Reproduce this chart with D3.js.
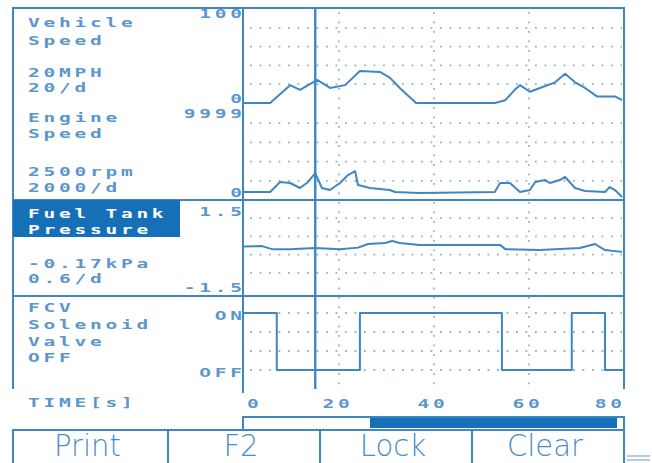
<!DOCTYPE html>
<html><head><meta charset="utf-8">
<script src="https://cdn.jsdelivr.net/npm/d3@7/dist/d3.min.js"></script>
<style>
html,body{margin:0;padding:0;background:#fff;}
svg{display:block;}
.lcd{font-family:"DejaVu Sans Mono",monospace;font-size:13px;font-weight:bold;letter-spacing:2.5px;fill:#5b96cf;}
.btn{font-family:"DejaVu Sans",sans-serif;font-weight:200;font-size:30px;fill:#4a8cca;}
</style></head>
<body>
<svg id="c" width="652" height="463"></svg>
<script>
// ---- data ----
const timeTicks = [0, 20, 40, 60, 80];
const timeGrid = [20, 40, 60];
const cursorTime = 15;

const speedT = [0, 5.5, 9.7, 11.8, 15.4, 18.1, 21.3, 24.4, 28.6, 30.7, 32.8, 35.6, 36.2, 52.8, 55, 57, 58.1, 60.2, 62.3, 65.5, 67.6, 69.7, 71.8, 74.3, 78.1, 79.6];
const speedV = [0, 0, 19, 14, 24.5, 16, 19, 34, 33, 27, 16, 3, 0, 0, 3, 14, 19, 12, 16, 22, 31, 22, 16, 7, 7, 3];
const speedGrid = [20, 40, 60, 80];

const engineT = [0, 5.5, 7.6, 9.7, 11.8, 13.5, 15, 16.4, 18.1, 20.2, 21.9, 23.4, 24, 26.5, 30.7, 31.8, 37, 52.8, 53.9, 56, 58.1, 60.2, 61.3, 63.4, 64.4, 66.5, 67.6, 69.7, 71.8, 76, 77, 78.1, 79.6];
const engineV = [830, 830, 1880, 1770, 1250, 1880, 2800, 1250, 1040, 1770, 2600, 3000, 1560, 1250, 1040, 830, 730, 830, 1770, 1770, 830, 1040, 1880, 2080, 1770, 2080, 2400, 1250, 940, 830, 1350, 1040, 310];
const engineGrid = [2000, 4000, 6000, 8000];

const fuelT = [0, 3.8, 5.9, 9.7, 15, 20.2, 24, 26.1, 29.7, 31.2, 32.8, 37, 53.9, 55, 62.3, 70.7, 73.9, 76, 79.6];
const fuelV = [-0.03, -0.02, -0.12, -0.12, -0.08, -0.12, -0.07, 0.05, 0.08, 0.15, 0.08, 0.02, 0.02, -0.12, -0.15, -0.08, 0.05, -0.15, -0.21];
const fuelGrid = [-0.9, -0.3, 0.3, 0.9];

const fcvT = [0, 6.9, 24.4, 54.3, 69, 76, 80];
const fcvV = [1, 0, 1, 0, 1, 0, 0];
const fcvGrid = [0, 1/3, 2/3, 1];

const speedLabels = ["Vehicle", "Speed", "20MPH", "20/d"];
const engineLabels = ["Engine", "Speed", "2500rpm", "2000/d"];
const fuelLabels = ["Fuel Tank", "Pressure", "-0.17kPa", "0.6/d"];
const fcvLabels = ["FCV", "Solenoid", "Valve", "OFF"];
const axisLabels = ["100", "0", "9999", "0", "1.5", "-1.5", "ON", "OFF"];
const buttonLabels = ["Print", "F2", "Lock", "Clear"];

// ---- drawing ----
const C = "#3f86c4", GRID = "#8fb3d6", FILL = "#1570b8";
const SX = 1.5, LS = 2.5;
const svg = d3.select("#c");
const x = d3.scaleLinear([0, 80], [244, 624]);
const ySpeed = d3.scaleLinear([0, 100], [103, 9]);
const yEng = d3.scaleLinear([0, 10000], [200, 104]);
const yFuel = d3.scaleLinear([-1.5, 1.5], [291, 200]);
const yFcv = d3.scaleLinear([0, 1], [370, 313]);

// grid
const g = svg.append("g").attr("stroke", GRID).attr("stroke-width", 1.8).attr("stroke-dasharray", "1.8,7.7");
function hgrid(vals, y) {
  g.selectAll(null).data(vals).join("line")
    .attr("x1", x(0) + 6).attr("x2", x(80) - 2)
    .attr("y1", d => y(d)).attr("y2", d => y(d));
}
hgrid(speedGrid, ySpeed); hgrid(engineGrid, yEng); hgrid(fuelGrid, yFuel); hgrid(fcvGrid, yFcv);
g.selectAll(null).data(timeGrid).join("line")
  .attr("x1", d => x(d)).attr("x2", d => x(d)).attr("y1", 12).attr("y2", 386);

// frame
const f = svg.append("g").attr("stroke", C).attr("stroke-width", 2).attr("fill", "none");
f.append("path").attr("d", "M13,389V8H624V389");
f.append("line").attr("x1", 13).attr("x2", 624).attr("y1", 200).attr("y2", 200);
f.append("line").attr("x1", 13).attr("x2", 624).attr("y1", 296).attr("y2", 296);
f.append("line").attr("x1", x(0) - 1).attr("x2", x(0) - 1).attr("y1", 8).attr("y2", 393);
f.append("line").attr("x1", x(cursorTime)).attr("x2", x(cursorTime)).attr("y1", 8).attr("y2", 389).attr("stroke-width", 2.4);

// fuel label box
svg.append("rect").attr("x", 13).attr("y", 200).attr("width", 167).attr("height", 37).attr("fill", FILL);

// traces
function trace(T, V, y, curve) {
  const line = d3.line().x(i => x(T[i])).y(i => y(V[i])).curve(curve || d3.curveLinear);
  svg.append("path").attr("d", line(d3.range(T.length)))
    .attr("fill", "none").attr("stroke", C).attr("stroke-width", 2).attr("stroke-linejoin", "round");
}
trace(speedT, speedV, ySpeed);
trace(engineT, engineV, yEng);
trace(fuelT, fuelV, yFuel);
trace(fcvT, fcvV, yFcv, d3.curveStepAfter);

// LCD-style text helper (wide glyphs)
function lcd(t, px, py, anchor, fill) {
  const el = svg.append("text").attr("class", "lcd")
    .attr("transform", `translate(${px},${py}) scale(${SX},1)`)
    .attr("text-anchor", anchor || "start")
    .attr("dx", anchor === "end" ? LS : (anchor === "middle" ? LS / 2 : 0))
    .text(t);
  if (fill) el.style("fill", fill);
  return el;
}
function labels(arr, ys, fill) { arr.forEach((t, i) => lcd(t, 28, ys[i], "start", fill)); }
labels(speedLabels, [27, 45, 77, 92]);
labels(engineLabels, [122, 138, 176, 192]);
labels(fuelLabels.slice(0, 2), [218, 234], "#ffffff");
labels(fuelLabels.slice(2), [268, 283]);
labels(fcvLabels, [312, 329, 346, 362]);
lcd("TIME[s]", 28, 407);

// axis value labels (right aligned to plot edge)
const axisY = [ySpeed(100) + 9, ySpeed(0), yEng(10000) + 14, yEng(0) - 3, yFuel(1.5) + 16, yFuel(-1.5) + 1, yFcv(1) + 7, yFcv(0) + 7];
axisLabels.forEach((t, i) => lcd(t, 242, axisY[i], "end"));

// time tick labels
timeTicks.forEach((d, i) => {
  const last = i === timeTicks.length - 1;
  lcd(String(d), i === 0 ? x(d) + 3 : (last ? x(d) - 2 : x(d) - 3), 408, i === 0 ? "start" : (last ? "end" : "middle"));
});

// scroll bar
svg.append("rect").attr("x", 243).attr("y", 417).attr("width", 381).attr("height", 13).attr("fill", "none").attr("stroke", C).attr("stroke-width", 2);
svg.append("rect").attr("x", 370).attr("y", 418).attr("width", 247).attr("height", 10).attr("fill", FILL);

// buttons
svg.append("path").attr("d", "M13,463V430H624V463").attr("fill", "none").attr("stroke", C).attr("stroke-width", 2);
const bx = [13, 168, 320, 472, 624];
[168, 320, 472].forEach(v => svg.append("line").attr("x1", v).attr("x2", v).attr("y1", 430).attr("y2", 463).attr("stroke", C).attr("stroke-width", 2));
buttonLabels.forEach((t, i) => svg.append("text").attr("class", "btn").attr("text-anchor", "middle")
  .attr("transform", `translate(${(bx[i] + bx[i + 1]) / 2 - 3},455.5) scale(0.97,1)`).text(t));

// small mark bottom right
svg.append("path").attr("d", "M627,456H650M627,460H650").attr("stroke", "#9bbde0").attr("stroke-width", 1.5);
</script>
</body></html>
